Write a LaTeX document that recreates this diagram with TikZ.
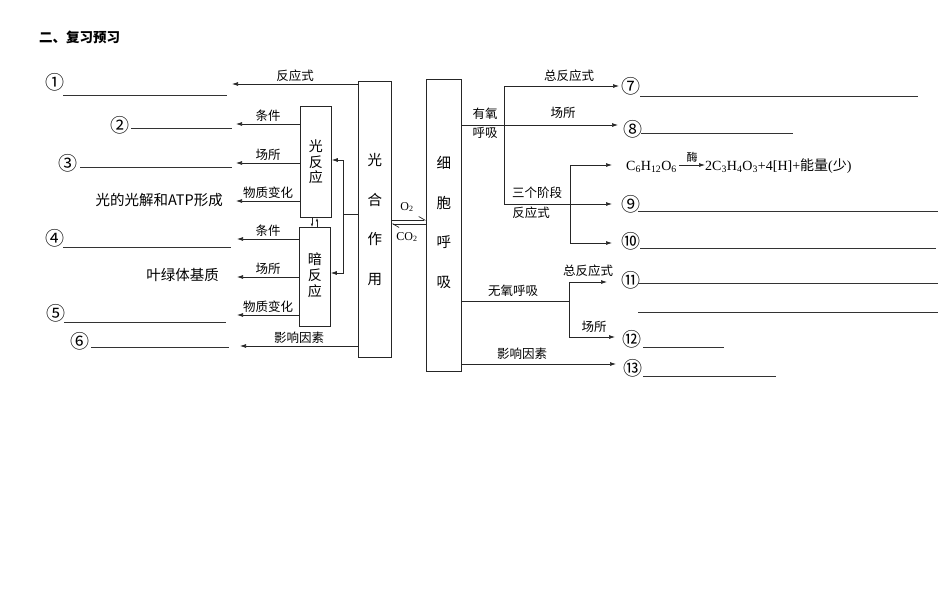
\documentclass[tikz,border=0pt]{standalone}
\usepackage{fontspec}
\setmainfont{Liberation Serif}
\newfontfamily\cjk{Noto Sans CJK SC}
\usetikzlibrary{arrows.meta,positioning}

\newcommand\lblfont{\cjk\fontsize{12.5}{14}\selectfont}
\newcommand\numfont{\cjk\fontsize{19}{20}\selectfont}

\tikzset{
  lbl/.style={font=\lblfont, inner sep=1pt},
  bigtxt/.style={font=\cjk\fontsize{14.5}{16}\selectfont, inner sep=0pt},
  num/.style={font=\numfont, inner sep=0pt},
  boxnode/.style={draw=black!85, line width=0.8pt, anchor=north west, inner sep=0pt},
  colbox/.style={font=\cjk\fontsize{14.5}{39.5}\selectfont, align=center, inner sep=0pt},
  rxnbox/.style={font=\cjk\fontsize{14}{15.8}\selectfont, align=center, inner sep=0pt},
  arr/.style={draw=black!85, line width=0.7pt, -{Latex[length=6pt,width=4pt]}},
  link/.style={draw=black!85, line width=0.7pt},
  tinyarr/.style={draw=black!85, line width=0.6pt, -{Latex[length=3.5pt,width=2.5pt]}},
  harp/.style={draw=black!85, line width=0.7pt, -{Straight Barb[left,length=6pt,width=7pt]}},
  blank/.style={draw=black!80, line width=0.8pt},
  chem/.style={font=\fontsize{14}{15}\selectfont, inner sep=0pt},
  gas/.style={font=\fontsize{12}{13}\selectfont, inner sep=0pt},
}

\begin{document}
\begin{tikzpicture}[x=1pt, y=-1pt]
\useasboundingbox (0,0) rectangle (950,594);

% title
\node[font=\cjk\bfseries\fontsize{13.5}{15}\selectfont, anchor=west, inner sep=0pt] (title) at (39,37) {二、复习预习};

% boxes
\node[boxnode, minimum width=31, minimum height=111] (light) at (300,106) {};
\node[boxnode, minimum width=31, minimum height=99] (dark) at (299,227) {};
\node[boxnode, minimum width=33, minimum height=276] (photo) at (358,81) {};
\node[boxnode, minimum width=35, minimum height=292] (resp) at (426,79) {};
\node[rxnbox] (lighttxt) at (light.center) {光\\反\\应};
\node[rxnbox] (darktxt) at ([yshift=1.5pt]dark.center) {暗\\反\\应};
\node[colbox] (phototxt) at (photo.center) {光\\合\\作\\用};
\node[colbox] (resptxt) at ([yshift=3pt]resp.center) {细\\胞\\呼\\吸};

% light / dark reaction exchange
\draw[tinyarr] (light.south -| 312,0) -- (dark.north -| 312,0);
\draw[tinyarr] (dark.north -| 317,0) -- (light.south -| 317,0);
\coordinate (bj) at (343,214);
\draw[link] (photo.west |- bj) -- (bj);
\draw[arr] (bj) |- (light.east |- 0,160);
\draw[arr] (bj) |- (dark.east |- 0,273);

% left arrows
\coordinate (t1) at (232,84);
\coordinate (t2) at (236,124);
\coordinate (t3) at (236,163);
\coordinate (t4) at (236,201);
\coordinate (t5) at (237,239);
\coordinate (t6) at (237,277);
\coordinate (t7) at (237,315);
\coordinate (t8) at (240,346);
\draw[arr] (photo.west |- t1) -- node[lbl, above=1pt] (l1) {反应式} (t1);
\draw[arr] (light.west |- t2) -- node[lbl, above=1pt] (l2) {条件} (t2);
\draw[arr] (light.west |- t3) -- node[lbl, above=1pt] (l3) {场所} (t3);
\draw[arr] (light.west |- t4) -- node[lbl, above=1pt] (l4) {物质变化} (t4);
\draw[arr] (dark.west |- t5) -- node[lbl, above=1pt] (l5) {条件} (t5);
\draw[arr] (dark.west |- t6) -- node[lbl, above=1pt] (l6) {场所} (t6);
\draw[arr] (dark.west |- t7) -- node[lbl, above=1pt] (l7) {物质变化} (t7);
\draw[arr] (photo.west |- t8) -- node[lbl, above=1pt] (l8) {影响因素} (t8);

% left answers
\node[num] (n1) at (55,82) {①};
\node[num] (n2) at (120,125) {②};
\node[num] (n3) at (68,163) {③};
\node[num] (n4) at (55,238) {④};
\node[num] (n5) at (56,313) {⑤};
\node[num] (n6) at (80,341) {⑥};
\node[bigtxt, anchor=east] (ans3) at (223,200) {光的光解和ATP形成};
\node[bigtxt, anchor=east] (ans6) at (219,275) {叶绿体基质};
\draw[blank] (63,95) -- (227,95);
\draw[blank] (131,128) -- (232,128);
\draw[blank] (80,167) -- (232,167);
\draw[blank] (63,247) -- (231,247);
\draw[blank] (64,322) -- (226,322);
\draw[blank] (91,347) -- (229,347);

% gas exchange
\draw[harp] (photo.east |- 0,220) -- (resp.west |- 0,220);
\draw[harp] (resp.west |- 0,224) -- (photo.east |- 0,224);
\node[gas] (o2) at (407,207) {O\textsubscript{2}};
\node[gas] (co2) at (407,237) {CO\textsubscript{2}};

% right arrows
\coordinate (a7) at (619,86);
\coordinate (a8) at (618,125);
\coordinate (ag) at (612,165);
\coordinate (a9) at (612,204);
\coordinate (a10) at (612,243);
\coordinate (a11) at (607,282);
\coordinate (a12) at (615,337);
\coordinate (a13) at (616,364);
\coordinate (yo) at (504,125);
\coordinate (yt) at (570,204);
\coordinate (yn) at (569,301);
\draw[arr] (resp.east |- yo) -- (a8);
\draw[arr] (yo |- a9) |- (a7);
\draw[arr] (yo |- a9) -- (a9);
\draw[arr] (yt |- a10) |- (ag);
\draw[arr] (yt |- a10) -- (a10);
\draw[link] (resp.east |- yn) -- (yn);
\draw[arr] (yn |- a12) |- (a11);
\draw[arr] (yn |- a12) -- (a12);
\draw[arr] (resp.east |- a13) -- (a13);

% right labels
\node[lbl] (r1) at (485,114) {有氧};
\node[lbl] (r2) at (485,133) {呼吸};
\node[lbl] (r3) at (569,76) {总反应式};
\node[lbl] (r4) at (563,113) {场所};
\node[lbl] (r5) at (537,193) {三个阶段};
\node[lbl] (r6) at (531,213) {反应式};
\node[lbl] (r7) at (513,291) {无氧呼吸};
\node[lbl] (r8) at (588,271) {总反应式};
\node[lbl] (r9) at (594,327) {场所};
\node[lbl] (r10) at (522,354) {影响因素};

% glycolysis
\node[chem, anchor=base west] (glc) at (626,170) {C\textsubscript{6}H\textsubscript{12}O\textsubscript{6}};
\node[chem, anchor=base west] (prod) at (705,170) {2C\textsubscript{3}H\textsubscript{4}O\textsubscript{3}+4[H]+{\cjk 能量}({\cjk 少})};
\draw[arr] ([xshift=2pt]glc.east |- ag) -- node[font=\cjk\fontsize{11}{12}\selectfont, above=2pt, inner sep=0pt] (enz) {酶} (prod.west |- ag);

% right answers
\node[num] (n7) at (631,86) {⑦};
\node[num] (n8) at (633,129) {⑧};
\node[num] (n9) at (631,204) {⑨};
\node[num] (n10) at (631,241) {⑩};
\node[num] (n11) at (631,280) {⑪};
\node[num] (n12) at (632,339) {⑫};
\node[num] (n13) at (633,368) {⑬};
\draw[blank] (640,96) -- (918,96);
\draw[blank] (641,133) -- (793,133);
\draw[blank] (638,211) -- (938,211);
\draw[blank] (640,248) -- (936,248);
\draw[blank] (638,283) -- (938,283);
\draw[blank] (638,312) -- (938,312);
\draw[blank] (643,347) -- (724,347);
\draw[blank] (643,376) -- (776,376);
\end{tikzpicture}
\end{document}
